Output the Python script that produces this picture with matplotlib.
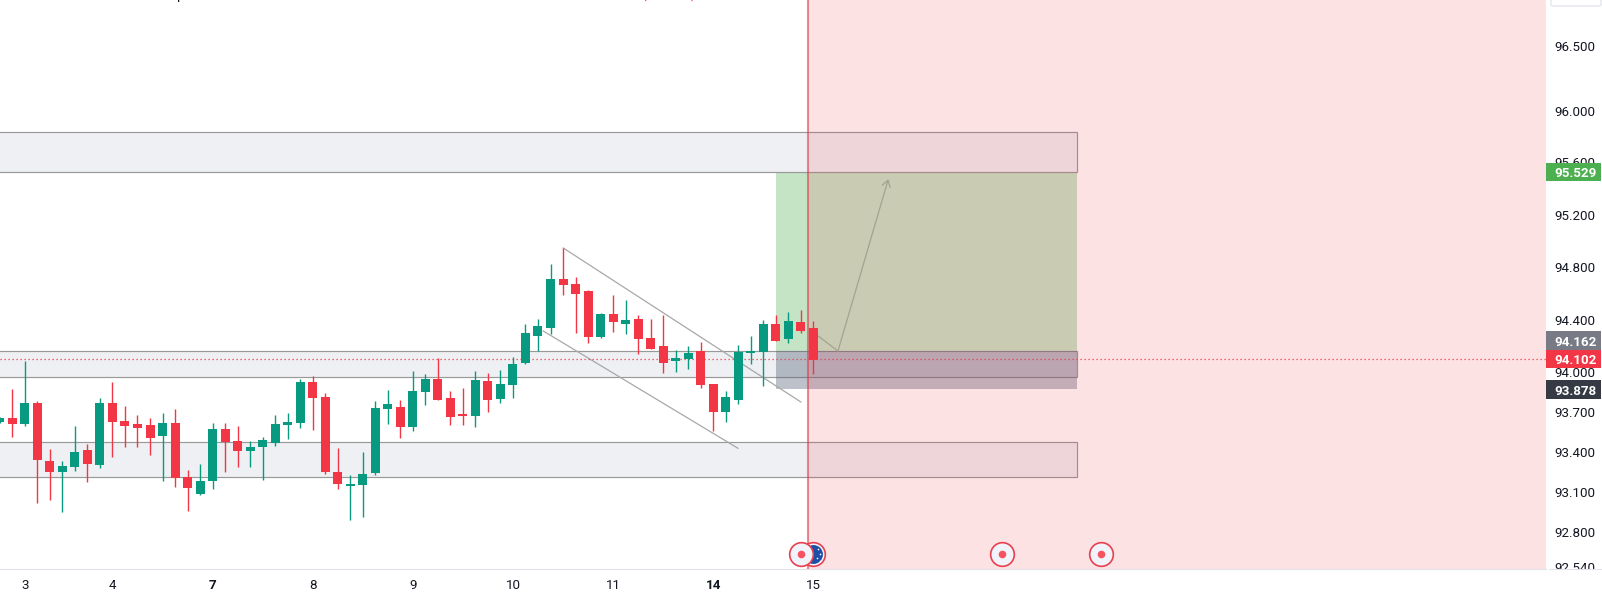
import matplotlib
matplotlib.use('Agg')
import matplotlib.pyplot as plt
from matplotlib.patches import Rectangle, FancyBboxPatch
from matplotlib.transforms import blended_transform_factory

plt.rcParams['font.family'] = ['Roboto', 'DejaVu Sans']

# candles, one value per bar
opens = [93.619, 93.650, 93.604, 93.765, 93.320, 93.236, 93.274, 93.405, 93.290, 93.765, 93.627,
         93.604, 93.596, 93.512, 93.611, 93.198, 93.067, 93.167, 93.565, 93.474, 93.397, 93.428,
         93.458, 93.596, 93.611, 93.926, 93.811, 93.236, 93.129, 93.136, 93.228, 93.719, 93.734,
         93.581, 93.849, 93.949, 93.803, 93.680, 93.665, 93.933, 93.795, 93.903, 94.071, 94.278,
         94.339, 94.715, 94.676, 94.623, 94.270, 94.446, 94.370, 94.408, 94.263, 94.201, 94.086,
         94.102, 94.163, 93.910, 93.696, 93.787, 94.148, 94.155, 94.370, 94.255, 94.385, 94.339]
closes = [93.650, 93.604, 93.765, 93.328, 93.236, 93.282, 93.389, 93.297, 93.765, 93.619, 93.588,
          93.573, 93.497, 93.611, 93.193, 93.113, 93.167, 93.565, 93.466, 93.397, 93.428, 93.481,
          93.604, 93.619, 93.926, 93.803, 93.236, 93.144, 93.144, 93.221, 93.726, 93.757, 93.581,
          93.857, 93.949, 93.788, 93.657, 93.665, 93.941, 93.788, 93.910, 94.063, 94.301, 94.354,
          94.715, 94.669, 94.600, 94.270, 94.446, 94.385, 94.400, 94.255, 94.178, 94.071, 94.109,
          94.148, 93.902, 93.696, 93.810, 94.155, 94.163, 94.370, 94.240, 94.393, 94.316, 94.094]
highs = [93.660, 93.872, 94.086, 93.780, 93.412, 93.320, 93.588, 93.451, 93.803, 93.926, 93.742,
         93.673, 93.650, 93.688, 93.719, 93.251, 93.297, 93.611, 93.611, 93.588, 93.474, 93.504,
         93.673, 93.688, 93.949, 93.972, 93.841, 93.420, 93.213, 93.389, 93.780, 93.864, 93.788,
         94.010, 93.987, 94.109, 93.857, 93.880, 94.010, 93.995, 94.018, 94.117, 94.370, 94.408,
         94.829, 94.952, 94.730, 94.630, 94.454, 94.592, 94.554, 94.439, 94.408, 94.439, 94.171,
         94.201, 94.232, 93.910, 93.856, 94.209, 94.278, 94.400, 94.439, 94.462, 94.477, 94.393]
lows = [93.610, 93.504, 93.588, 92.998, 93.021, 92.930, 93.244, 93.159, 93.267, 93.351, 93.428,
        93.428, 93.366, 93.167, 93.121, 92.937, 93.060, 93.106, 93.236, 93.274, 93.274, 93.175,
        93.435, 93.489, 93.573, 93.558, 93.221, 93.106, 92.868, 92.891, 93.213, 93.604, 93.497,
        93.550, 93.749, 93.788, 93.596, 93.596, 93.581, 93.696, 93.765, 93.803, 94.063, 94.163,
        94.293, 94.592, 94.301, 94.224, 94.263, 94.308, 94.293, 94.140, 94.178, 93.994, 94.002,
        94.025, 93.879, 93.550, 93.619, 93.757, 94.063, 93.895, 94.240, 94.224, 94.301, 93.987]

# drawing objects on the chart
band_tops = [95.839, 94.162, 93.463]
band_bottoms = [95.532, 93.966, 93.195]
band_end = 86.1
entry = 94.162
target = 95.529
stop = 93.87
position_start = 62.0
last_price = 94.102
now_bar = 64.57
upper_channel = ([45.02, 64.0], [94.952, 93.772])
lower_channel = ([43.42, 58.98], [94.316, 93.417])
arrow_x = [65.37, 66.97, 70.99]
arrow_y = [94.278, 94.163, 95.479]
event_bars = [64.0, 80.05, 88.0]
flag_bar = 65.0
event_price = 92.607

# axes labels
x_tick_bars = [2, 9, 17, 25, 33, 41, 49, 57, 65]
x_tick_labels = ['3', '4', '7', '8', '9', '10', '11', '14', '15']
x_bold = ['7', '14']
price_ticks = [96.5, 96.0, 95.6, 95.2, 94.8, 94.4, 94.0, 93.7, 93.4, 93.1, 92.8, 92.54]
price_labels = ['96.500', '96.000', '95.600', '95.200', '94.800', '94.400', '94.000', '93.700',
                '93.400', '93.100', '92.800', '92.540']
# the grey badge is pushed up by the scale so it does not sit on the red one
badge_prices = [95.525, 94.24, 94.102, 93.868]
badge_labels = ['95.529', '94.162', '94.102', '93.878']
badge_colors = ['#4caf50', '#787b86', '#f23645', '#363a45']

GREEN = '#089981'
RED = '#f23645'
TEXT = '#131722'
W, H = 1602, 597
AXIS_X, AXIS_Y = 1546, 569

fig = plt.figure(figsize=(W / 100, H / 100), dpi=100, facecolor='white')
ax = fig.add_axes([0, (H - AXIS_Y) / H, AXIS_X / W, AXIS_Y / H])
ax.set_xlim(0.0144, 123.54)
ax.set_ylim(92.492, 96.8525)

for top, bottom in zip(band_tops, band_bottoms):
    ax.add_patch(Rectangle((-5, bottom), band_end + 5, top - bottom, facecolor='#eef0f3',
                           edgecolor='#999999', linewidth=0.85, zorder=1))

# long position box
ax.add_patch(Rectangle((position_start, entry), band_end - position_start, target - entry,
                       facecolor=(76 / 255, 175 / 255, 80 / 255, 0.33), edgecolor='none', zorder=2))
ax.add_patch(Rectangle((position_start, stop), band_end - position_start, entry - stop,
                       facecolor=(90 / 255, 100 / 255, 120 / 255, 0.4), edgecolor='none', zorder=2))

# pink session zone sits over the boxes
ax.add_patch(Rectangle((now_bar, 92), 70, 6, facecolor=(242 / 255, 61 / 255, 80 / 255, 0.15),
                       edgecolor='none', zorder=3))
ax.axvline(now_bar, color='#dc3c4c', alpha=0.6, linewidth=1.5, zorder=4)

ax.plot(*upper_channel, color='#a8a8a8', linewidth=0.9, zorder=4)
ax.plot(*lower_channel, color='#a8a8a8', linewidth=0.9, zorder=4)
ax.plot(arrow_x[:2], arrow_y[:2], color='#a3a392', linewidth=0.9, zorder=4)
ax.annotate('', xy=(arrow_x[2], arrow_y[2]), xytext=(arrow_x[1], arrow_y[1]), zorder=4,
            arrowprops=dict(arrowstyle='->,head_length=0.45,head_width=0.3', color='#a3a392',
                            linewidth=0.9, shrinkA=0, shrinkB=0))

ax.axhline(last_price, color=RED, linewidth=0.9, linestyle=(0, (1, 2.2)), zorder=6)

for i in range(len(opens)):
    color = GREEN if closes[i] >= opens[i] else RED
    ax.vlines(i, lows[i], highs[i], color=color, linewidth=1.0, zorder=7)
    ax.bar(i, abs(closes[i] - opens[i]), bottom=min(opens[i], closes[i]), width=0.72,
           color=color, linewidth=0, zorder=8)

# event markers along the bottom, the flag one is half hidden by its neighbour
ax.scatter([flag_bar], [event_price], s=290, facecolor='#f0f3fa', edgecolor='#e8404f',
           linewidth=1.2, zorder=9)
ax.scatter([flag_bar], [event_price], s=185, facecolor='#1c4fa8', linewidth=0, zorder=9)
ax.scatter([flag_bar + 0.38, flag_bar + 0.55, flag_bar + 0.3, flag_bar + 0.5],
           [event_price + 0.04, event_price, event_price - 0.03, event_price - 0.05],
           s=1.5, color='white', linewidth=0, zorder=9)
ax.scatter(event_bars, [event_price] * len(event_bars), s=290, facecolor='#f0f3fa',
           edgecolor='#e8404f', linewidth=1.2, zorder=10)
ax.scatter(event_bars, [event_price] * len(event_bars), s=30, color='#f7525f', linewidth=0, zorder=11)

# tails of the clipped header text
ax.text(14.48, 96.86, 'p', color=TEXT, fontsize=10, ha='center', va='baseline', clip_on=False)
ax.text(51.4, 96.86, '(', color=RED, fontsize=10, ha='center', va='baseline', clip_on=False)
ax.text(55.4, 96.86, ')', color=RED, fontsize=10, ha='center', va='baseline', clip_on=False)

for side in ['top', 'left', 'right']:
    ax.spines[side].set_visible(False)
ax.spines['bottom'].set_color('#e0e3eb')
ax.spines['bottom'].set_linewidth(0.8)
ax.set_yticks([])
ax.set_xticks(x_tick_bars)
ax.set_xticklabels(x_tick_labels, fontsize=9.6, color=TEXT)
for label in ax.get_xticklabels():
    if label.get_text() in x_bold:
        label.set_fontweight('bold')
ax.tick_params(axis='x', length=0, pad=7)

# price scale is logarithmic, on its own axes so the last label gets cut at the bottom
ax2 = fig.add_axes([AXIS_X / W, (H - AXIS_Y) / H, (W - AXIS_X) / W, AXIS_Y / H])
ax2.set_yscale('log')
ax2.set_xlim(0, 1)
ax2.set_ylim(92.524, 96.858)
ax2.axis('off')
trans = blended_transform_factory(ax2.transAxes, ax2.transData)
for price, label in zip(price_ticks, price_labels):
    ax2.text(0.52, price, label, transform=trans, fontsize=9.6, color=TEXT, ha='center',
             va='center_baseline', clip_on=True, zorder=1)
ax2.barh(badge_prices, [0.98] * 4, height=0.14, left=0, color=badge_colors, linewidth=0, zorder=2)
for price, label in zip(badge_prices, badge_labels):
    ax2.text(0.52, price, label, transform=trans, fontsize=9.6, color='white', fontweight='bold',
             ha='center', va='center_baseline', zorder=3)

# corner button, only its lower edge is on the canvas
fig.add_artist(FancyBboxPatch((1551 / W, 1 - 6 / H), 50 / W, 12 / H,
                              boxstyle='round,pad=0,rounding_size=0.002',
                              transform=fig.transFigure, facecolor='white', edgecolor='#e0e3eb',
                              linewidth=0.9))
fig.add_artist(plt.Line2D([AXIS_X / W + 0.002, 1], [(H - AXIS_Y) / H] * 2, color='#e0e3eb',
                          linewidth=0.8, transform=fig.transFigure))

plt.savefig('out.png', dpi=100)
plt.close()
